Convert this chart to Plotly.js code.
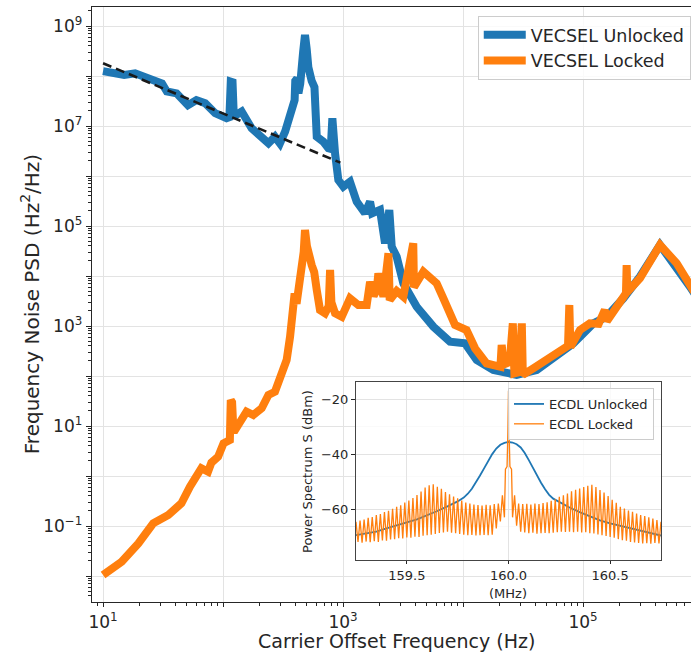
<!DOCTYPE html>
<html>
<head>
<meta charset="utf-8">
<script src="https://cdn.plot.ly/plotly-3.0.1.min.js"></script>
<style>
html,body{margin:0;padding:0;background:#fff;}
#chart{width:691px;height:654px;}
</style>
</head>
<body>
<div id="chart"></div>
<script>
// ---------- Main plot: VECSEL frequency noise PSD ----------
const unlockedFreq = [10, 12, 15, 18.5, 22.4, 27, 31, 34, 41, 51, 60, 71, 86, 107, 113, 116, 120, 123, 143, 173, 210, 239, 271, 298, 329, 362, 385, 395, 400, 415, 425, 440, 465, 482, 498, 514, 548, 578, 604, 686, 755, 790, 815, 830, 858, 914, 1006, 1143, 1300, 1525, 1680, 1750, 1848, 2033, 2240, 2430, 2546, 2800, 3184, 4110, 5660, 7790, 10400, 13000, 17900, 20300, 28000, 41100, 60300, 83000, 122000, 157000, 217000, 298000, 438000, 604000, 794000, 1000000];
const unlockedPSD = [1.25e8, 1.2e8, 1.05e8, 1.13e8, 9.7e7, 7.7e7, 7.1e7, 4.9e7, 4.5e7, 2.6e7, 3.3e7, 2.85e7, 1.8e7, 1.43e7, 1.5e7, 7.7e7, 7.5e7, 1.55e7, 1.95e7, 9e6, 5.7e6, 4.5e6, 6.1e6, 4.5e6, 7.7e6, 1.8e7, 2.4e7, 3.3e7, 8e7, 9e7, 4.5e7, 7e7, 3e8, 6.6e8, 3.5e8, 1.5e8, 8e7, 6e7, 6.1e6, 4.85e6, 3.6e6, 3.5e6, 1.43e7, 4e6, 2.84e6, 8.3e5, 6.1e5, 7.7e5, 3.06e5, 1.8e5, 3.06e5, 1.8e5, 1.93e5, 2.1e5, 4.5e4, 2.1e5, 3.86e4, 2.43e4, 7.1e3, 2.43e3, 9.7e2, 4.85e2, 4.5e2, 2.1e2, 1.32e2, 1.22e2, 1.05e2, 1.32e2, 2.43e2, 4.5e2, 1.13e3, 1.53e3, 3.58e3, 9.7e3, 4.17e4, 1.53e4, 5.7e3, 2.5e3];

const lockedFreq = [10, 14.3, 19.7, 26.2, 35, 45, 53, 66, 75, 80, 91, 101, 114, 116, 119, 122, 126, 157, 179, 210, 239, 271, 308, 339, 362, 385, 395, 410, 430, 470, 482, 500, 548, 575, 604, 643, 708, 760, 780, 800, 858, 975, 1143, 1342, 1575, 1680, 1800, 1910, 1970, 2170, 2390, 2450, 2800, 3180, 3850, 3900, 4670, 5660, 6030, 6860, 7080, 8300, 8580, 10700, 12600, 15700, 19700, 20500, 21000, 21800, 24500, 26000, 26800, 29500, 30900, 31500, 38500, 49800, 68600, 75000, 76900, 78500, 94400, 114000, 135000, 152000, 158000, 203000, 228000, 231000, 234000, 298000, 438000, 604000, 794000, 1000000];
const lockedPSD = [0.0105, 0.0193, 0.045, 0.113, 0.166, 0.284, 0.61, 1.43, 1.22, 1.85, 2.43, 4.5, 5.25, 33, 30, 8.3, 8.3, 19.3, 16.6, 22.6, 41.7, 48.5, 113, 209, 611, 1800, 4500, 2800, 5500, 3e4, 8.3e4, 4e4, 1.66e4, 1.2e4, 5250, 2090, 1800, 2500, 1.32e4, 3000, 1800, 1530, 3580, 2630, 2630, 7690, 4000, 5250, 1.13e4, 3860, 2.84e4, 3300, 5000, 3860, 4.5e4, 6000, 1.22e4, 7690, 7140, 3580, 3060, 1130, 1050, 832, 358, 179, 153, 153, 417, 170, 190, 1130, 113, 120, 1130, 105, 142, 209, 358, 400, 2630, 380, 832, 1130, 1100, 2090, 1250, 3310, 4500, 1.66e4, 4800, 9000, 4.17e4, 1.79e4, 5670, 2500];

const fitFreq = [10, 950];
const fitPSD = [1.8e8, 1.85e6];

const xTickVals = [10, 100, 1000, 10000, 100000];
const xTickText = ['10<sup>1</sup>', '', '10<sup>3</sup>', '', '10<sup>5</sup>'];
const yTickVals = [1e-2, 1e-1, 1, 10, 100, 1e3, 1e4, 1e5, 1e6, 1e7, 1e8, 1e9];
const yTickText = ['', '10<sup>−1</sup>', '', '10<sup>1</sup>', '', '10<sup>3</sup>', '', '10<sup>5</sup>', '', '10<sup>7</sup>', '', '10<sup>9</sup>'];

// ---------- Inset: ECDL power spectrum ----------
const ecdlUnlockedMHz = [159.25, 159.30, 159.35, 159.40, 159.45, 159.50, 159.55, 159.60, 159.65, 159.70, 159.75, 159.78, 159.80, 159.82, 159.84, 159.86, 159.88, 159.90, 159.92, 159.94, 159.96, 159.98, 160.00, 160.02, 160.04, 160.06, 160.08, 160.10, 160.12, 160.14, 160.16, 160.18, 160.20, 160.22, 160.25, 160.30, 160.35, 160.40, 160.45, 160.50, 160.55, 160.60, 160.65, 160.70, 160.75];
const ecdlUnlockedDBm = [-69.5, -68.9, -68.2, -67.0, -65.8, -64.8, -63.7, -62.3, -60.7, -59.0, -57.2, -55.8, -54.4, -52.6, -50.3, -47.8, -45.2, -42.6, -40.0, -38.0, -36.6, -35.9, -35.6, -35.8, -36.4, -37.6, -39.6, -42.2, -45.0, -47.8, -50.4, -52.8, -54.8, -56.2, -57.5, -59.4, -61.1, -62.6, -64.1, -65.2, -66.1, -67.0, -67.8, -68.7, -69.6];

const ecdlLockedMHz = [
 159.25, 159.26, 159.27, 159.28, 159.29, 159.30, 159.31, 159.32, 159.33, 159.34,
 159.35, 159.36, 159.37, 159.38, 159.39, 159.40, 159.41, 159.42, 159.43, 159.44,
 159.45, 159.46, 159.47, 159.48, 159.49, 159.50, 159.51, 159.52, 159.53, 159.54,
 159.55, 159.56, 159.57, 159.58, 159.59, 159.60, 159.61, 159.62, 159.63, 159.64,
 159.65, 159.66, 159.67, 159.68, 159.69, 159.70, 159.71, 159.72, 159.73, 159.74,
 159.75, 159.76, 159.77, 159.78, 159.79, 159.80, 159.81, 159.82, 159.83, 159.84,
 159.85, 159.86, 159.87, 159.88, 159.89, 159.90, 159.91, 159.92, 159.93, 159.94,
 159.95, 159.96, 159.97, 159.98, 159.985, 159.993, 159.997, 160.000, 160.003, 160.007,
 160.015, 160.02, 160.03, 160.04,
 160.05, 160.06, 160.07, 160.08, 160.09, 160.10, 160.11, 160.12, 160.13, 160.14,
 160.15, 160.16, 160.17, 160.18, 160.19, 160.20, 160.21, 160.22, 160.23, 160.24,
 160.25, 160.26, 160.27, 160.28, 160.29, 160.30, 160.31, 160.32, 160.33, 160.34,
 160.35, 160.36, 160.37, 160.38, 160.39, 160.40, 160.41, 160.42, 160.43, 160.44,
 160.45, 160.46, 160.47, 160.48, 160.49, 160.50, 160.51, 160.52, 160.53, 160.54,
 160.55, 160.56, 160.57, 160.58, 160.59, 160.60, 160.61, 160.62, 160.63, 160.64,
 160.65, 160.66, 160.67, 160.68, 160.69, 160.70, 160.71, 160.72, 160.73, 160.74,
 160.75];
const ecdlLockedDBm = [
 -64.6, -71.9, -64.2, -72.2, -63.8, -71.8, -63.2, -72.0, -62.9, -71.7,
 -62.2, -71.9, -61.8, -71.4, -61.1, -71.5, -60.6, -71.0, -59.9, -70.9,
 -59.2, -70.6, -58.6, -70.7, -57.6, -70.3, -56.9, -70.4, -56.0, -70.0,
 -54.9, -70.1, -53.6, -69.7, -52.2, -69.5, -51.3, -69.3, -51.0, -69.0,
 -51.9, -68.7, -52.6, -68.5, -53.8, -68.2, -54.6, -68.6, -55.4, -68.8,
 -56.1, -69.0, -56.9, -69.3, -57.6, -69.5, -58.0, -69.4, -58.3, -69.6,
 -58.5, -69.5, -58.7, -69.4, -58.4, -69.5, -58.6, -69.3, -58.2, -67.0,
 -58.0, -64.5, -55.0, -63.0, -45.5, -44.5, -32.0, -17.0, -32.0, -44.5,
 -45.5, -63.0, -55.0, -66.0,
 -58.0, -68.2, -58.2, -68.5, -58.1, -68.8, -58.3, -68.6, -58.0, -68.9,
 -58.2, -68.8, -57.8, -68.7, -57.5, -68.8, -57.0, -68.6, -56.4, -68.4,
 -55.5, -68.2, -55.0, -68.3, -54.3, -68.2, -53.5, -68.4, -53.0, -68.2,
 -52.5, -68.5, -52.0, -68.4, -51.5, -68.8, -51.2, -68.9, -52.0, -69.2,
 -53.1, -69.5, -54.0, -69.8, -55.2, -70.1, -56.6, -70.4, -57.7, -70.9,
 -59.2, -71.3, -59.8, -71.5, -60.5, -71.9, -61.0, -72.1, -61.6, -72.3,
 -62.2, -72.5, -62.5, -72.4, -63.0, -72.6, -63.4, -72.3, -64.0, -72.5,
 -64.6];

const insetXTicks = [159.5, 160.0, 160.5];
const insetYTicks = [-20, -40, -60];

const BLUE = '#1f77b4', ORANGE = '#ff7f0e', INK = '#262626', GRID = '#e3e3e3';
const FONT = 'DejaVu Sans, Liberation Sans, sans-serif';

const traces = [
  {x: unlockedFreq, y: unlockedPSD, type: 'scatter', mode: 'lines', name: 'VECSEL Unlocked',
   line: {color: BLUE, width: 8}, xaxis: 'x', yaxis: 'y', legend: 'legend'},
  {x: lockedFreq, y: lockedPSD, type: 'scatter', mode: 'lines', name: 'VECSEL Locked',
   line: {color: ORANGE, width: 8}, xaxis: 'x', yaxis: 'y', legend: 'legend'},
  {x: fitFreq, y: fitPSD, type: 'scatter', mode: 'lines', showlegend: false,
   line: {color: '#1a1a1a', width: 2.6, dash: '9px,5px'}, xaxis: 'x', yaxis: 'y'},
  {x: ecdlUnlockedMHz, y: ecdlUnlockedDBm, type: 'scatter', mode: 'lines', name: 'ECDL Unlocked',
   line: {color: BLUE, width: 1.8}, xaxis: 'x2', yaxis: 'y2', legend: 'legend2'},
  {x: ecdlLockedMHz, y: ecdlLockedDBm, type: 'scatter', mode: 'lines', name: 'ECDL Locked',
   line: {color: ORANGE, width: 1.3}, xaxis: 'x2', yaxis: 'y2', legend: 'legend2'}
];

const layout = {
  width: 691, height: 654,
  margin: {l: 92, r: 0, t: 7, b: 52},
  paper_bgcolor: '#ffffff',
  plot_bgcolor: 'rgba(255,255,255,0.8)',
  font: {family: FONT, color: INK},
  xaxis: {
    type: 'log', range: [0.908, 5.9], domain: [0, 1], anchor: 'y',
    tickmode: 'array', tickvals: xTickVals, ticktext: xTickText,
    tickfont: {size: 17, color: INK},
    ticks: 'outside', ticklen: 4, tickwidth: 1, tickcolor: INK,
    minor: {ticks: 'outside', ticklen: 2.5, tickcolor: INK, dtick: 'D1', showgrid: false},
    showline: true, linecolor: INK, linewidth: 1.3, mirror: true,
    showgrid: true, gridcolor: GRID, gridwidth: 1, zeroline: false
  },
  yaxis: {
    type: 'log', range: [-2.52, 9.38], domain: [0, 1], anchor: 'x',
    tickmode: 'array', tickvals: yTickVals, ticktext: yTickText,
    tickfont: {size: 17, color: INK},
    ticks: 'outside', ticklen: 5, tickwidth: 1, tickcolor: INK,
    minor: {ticks: 'outside', ticklen: 3, tickcolor: INK, dtick: 'D1', showgrid: false},
    showline: true, linecolor: INK, linewidth: 1.3, mirror: false,
    showgrid: true, gridcolor: GRID, gridwidth: 1, zeroline: false
  },
  xaxis2: {
    range: [159.25, 160.75], domain: [0.4407, 0.9499], anchor: 'y2',
    tickmode: 'array', tickvals: insetXTicks, tickformat: '.1f',
    tickfont: {size: 13, color: INK},
    ticks: 'outside', ticklen: 3, tickcolor: INK,
    showline: true, linecolor: '#444', linewidth: 1, mirror: true,
    showgrid: true, gridcolor: GRID, zeroline: false
  },
  yaxis2: {
    range: [-78.5, -13.8], domain: [0.0706, 0.3697], anchor: 'x2',
    tickmode: 'array', tickvals: insetYTicks,
    tickfont: {size: 13, color: INK},
    ticks: 'outside', ticklen: 4, tickcolor: INK,
    showline: true, linecolor: '#444', linewidth: 1, mirror: true,
    showgrid: true, gridcolor: GRID, zeroline: false
  },
  legend: {
    x: 0.644, y: 0.985, xanchor: 'left', yanchor: 'top',
    bgcolor: 'rgba(255,255,255,0.8)', bordercolor: '#cccccc', borderwidth: 1,
    font: {size: 17.5, color: INK}, tracegroupgap: 0, itemwidth: 42
  },
  legend2: {
    x: 0.6945, y: 0.3597, xanchor: 'left', yanchor: 'top',
    bgcolor: 'rgba(255,255,255,0.8)', bordercolor: '#cccccc', borderwidth: 1,
    font: {size: 13, color: INK}, tracegroupgap: 0
  },
  annotations: [
    {text: 'Carrier Offset Frequency (Hz)', xref: 'paper', yref: 'paper', x: 0.509, y: -0.066,
     xanchor: 'center', yanchor: 'middle', showarrow: false, font: {size: 19, color: INK}},
    {text: 'Frequency Noise PSD (Hz<sup>2</sup>/Hz)', xref: 'paper', yref: 'paper', x: -0.104, y: 0.5,
     xanchor: 'center', yanchor: 'middle', textangle: -90, showarrow: false, font: {size: 20, color: INK}},
    {text: 'Power Spectrum S (dBm)', xref: 'paper', yref: 'paper', x: 0.3606, y: 0.2202,
     xanchor: 'center', yanchor: 'middle', textangle: -90, showarrow: false, font: {size: 13, color: INK}},
    {text: '(MHz)', xref: 'paper', yref: 'paper', x: 0.6945, y: 0.0135,
     xanchor: 'center', yanchor: 'middle', showarrow: false, font: {size: 13, color: INK}}
  ]
};

Plotly.newPlot('chart', traces, layout, {displayModeBar: false, staticPlot: true});
</script>
</body>
</html>
